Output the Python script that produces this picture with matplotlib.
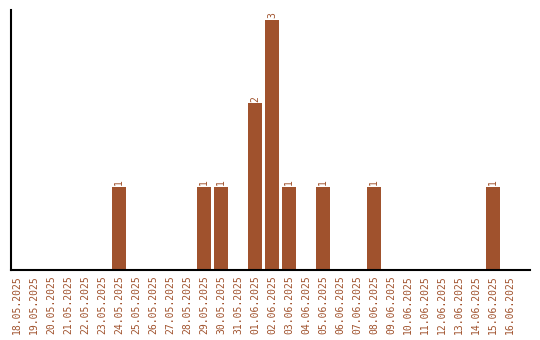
import matplotlib
matplotlib.use("Agg")
import matplotlib.pyplot as plt

dates = ["18.05.2025","19.05.2025","20.05.2025","21.05.2025","22.05.2025","23.05.2025",
         "24.05.2025","25.05.2025","26.05.2025","27.05.2025","28.05.2025","29.05.2025",
         "30.05.2025","31.05.2025","01.06.2025","02.06.2025","03.06.2025","04.06.2025",
         "05.06.2025","06.06.2025","07.06.2025","08.06.2025","09.06.2025","10.06.2025",
         "11.06.2025","12.06.2025","13.06.2025","14.06.2025","15.06.2025","16.06.2025"]
values = [0,0,0,0,0,0,1,0,0,0,0,1,1,0,2,3,1,0,1,0,0,1,0,0,0,0,0,0,1,0]

color = "#A0522D"
fig = plt.figure(figsize=(5.4, 3.4), dpi=100)
ax = fig.add_axes([11/540, 70/340, 519/540, 260/340])
x = list(range(len(dates)))
ax.bar(x, values, width=0.82, color=color)
for xi, v in zip(x, values):
    if v > 0:
        ax.text(xi, v + 0.02, str(v), rotation=90, ha="center", va="bottom",
                fontsize=7, color=color, family="DejaVu Sans Mono")
ax.set_xlim(-0.35, 30.18)
ax.set_ylim(0, 3.12)
ax.set_xticks(x)
ax.set_xticklabels(dates, rotation=90, fontsize=7, color=color, family="DejaVu Sans Mono")
ax.tick_params(axis="x", length=0, pad=4)
ax.set_yticks([])
ax.spines["top"].set_visible(False)
ax.spines["right"].set_visible(False)
ax.spines["left"].set_linewidth(1.5)
ax.spines["bottom"].set_linewidth(1.5)
fig.savefig("out.png", dpi=100)
